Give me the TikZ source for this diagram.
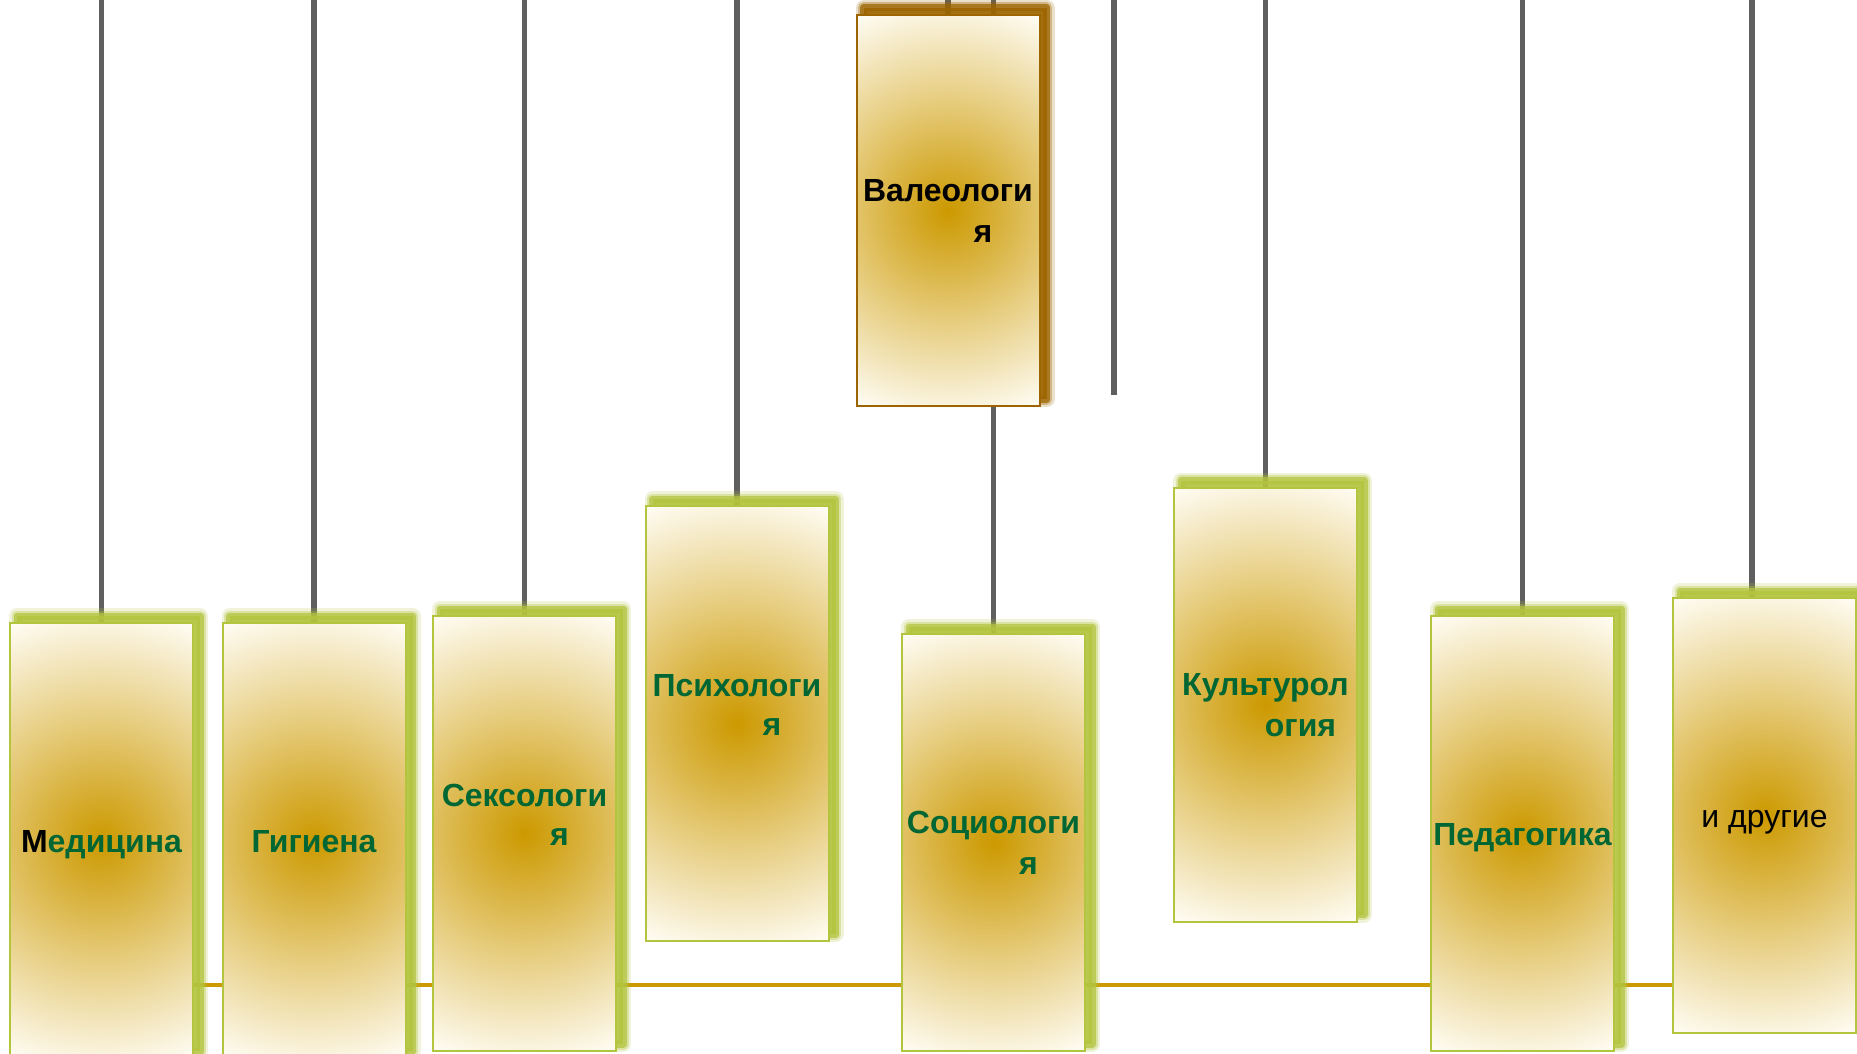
\documentclass[tikz,border=0pt]{standalone}
\usepackage{fontspec}
\setmainfont{Liberation Sans}
\usetikzlibrary{calc,shadows,backgrounds}

\definecolor{stemgray}{HTML}{5F5F5F}
\definecolor{railgold}{HTML}{CC9900}
\definecolor{goldcore}{HTML}{CC9900}
\definecolor{goldpale}{HTML}{FFFDF5}
\definecolor{leafgreen}{HTML}{B3C43F}
\definecolor{barkbrown}{HTML}{9C6500}
\definecolor{textgreen}{HTML}{006633}

\newcommand{\tstrut}{\rule[-4pt]{0pt}{19.5pt}}

\tikzset{
  haze/.style={
    general shadow={fill=#1, draw=#1, line width=8pt, line join=round, opacity=.2, shadow xshift=3.5pt, shadow yshift=3.5pt},
    general shadow={fill=#1, draw=#1, line width=5.5pt, line join=round, opacity=.35, shadow xshift=3.5pt, shadow yshift=3.5pt},
    general shadow={fill=#1, draw=#1, line width=3.5pt, line join=round, opacity=.75, shadow xshift=3.5pt, shadow yshift=3.5pt}},
  glowfill/.style={path picture={
    \shade[inner color=goldcore, outer color=goldpale]
      let \p1=($(path picture bounding box.north east)-(path picture bounding box.center)$) in
      (path picture bounding box.center) circle [radius={veclen(\x1,\y1)*1pt}];}},
  subject/.style={line width=1pt, glowfill, minimum width=91.5pt, minimum height=217.5pt,
    inner sep=0pt, align=center, text=textgreen, font=\fontsize{16pt}{19.3pt}\selectfont\bfseries},
  greenbox/.style={subject, draw=leafgreen, haze=leafgreen},
  brownbox/.style={subject, draw=barkbrown, haze=barkbrown, text=black},
  stem/.style={stemgray, line width=2.75pt},
  rail/.style={railgold, line width=2.3pt},
}

\begin{document}
\begin{tikzpicture}[x=0.5pt, y=-0.5pt]
  \useasboundingbox (0,0) rectangle (1857,1054);
  % subjects
  \node[greenbox] (med) at (101.5,840.5) {\tstrut{\color{black}М}едицина};
  \node[greenbox] (gig) at (314,840.5) {\tstrut Гигиена};
  \node[greenbox] (seks) at (524.5,833.5) {\tstrut Сексологи\\\hspace*{35pt}я\\\tstrut};
  \node[greenbox] (psy) at (737,723.5) {\tstrut Психологи\\\hspace*{35pt}я\\\tstrut};
  \node[brownbox, minimum height=195.5pt] (val) at (948,210.5) {\tstrut Валеологи\\\hspace*{35pt}я\tstrut};
  \node[greenbox, minimum height=208.5pt] (soc) at (993.5,842.5) {\tstrut Социологи\\\hspace*{35pt}я\tstrut};
  \node[greenbox, minimum height=217pt] (kult) at (1265.5,704.5) {\tstrut Культурол\\\hspace*{35pt}огия\tstrut};
  \node[greenbox] (ped) at (1522.5,833.5) {\tstrut Педагогика};
  \node[greenbox, text=black, font=\fontsize{16pt}{19.3pt}\selectfont] (dr) at (1764.5,815.5) {\tstrut и другие};
  % free ends
  \coordinate (sky) at (0,0);
  \coordinate (rail) at (0,985);
  \coordinate (stub-top) at (1114,0);
  \coordinate (stub-end) at (1114,395);
  \coordinate (dr-top) at (1752,0);
  \begin{scope}[on background layer]
    \foreach \n in {med,gig,seks,psy,val,soc,kult,ped}
      \draw[stem] (\n.north |- sky) -- (\n.north);
    \draw[stem] (dr-top) -- (dr-top |- dr.north);
    \draw[stem] (stub-top) -- (stub-end);
    \draw[rail] (med |- rail) -- (dr |- rail);
  \end{scope}
\end{tikzpicture}
\end{document}
